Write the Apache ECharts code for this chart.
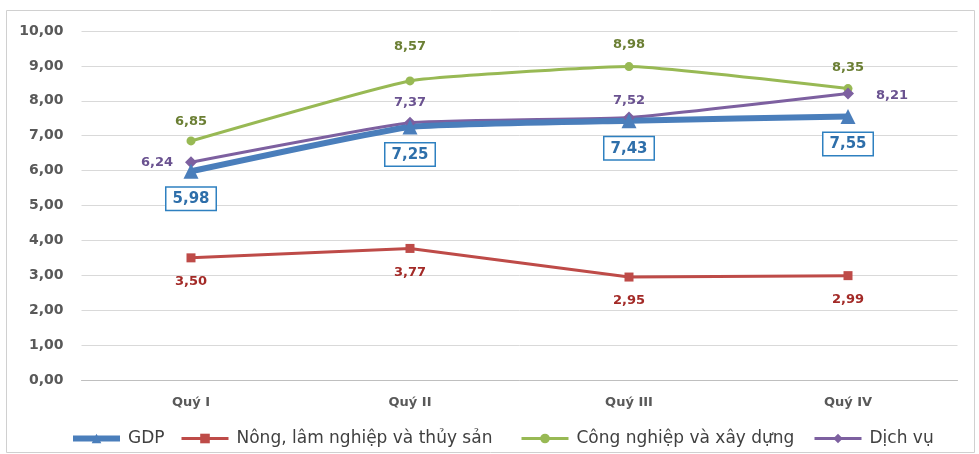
<!DOCTYPE html>
<html>
<head>
<meta charset="utf-8">
<script src="https://cdn.jsdelivr.net/npm/echarts@6/dist/echarts.min.js"></script>
<style>
  html, body { margin: 0; padding: 0; background: #fff; }
  #chart { width: 979px; height: 454px; }
</style>
</head>
<body>
<div id="chart"></div>
<script>
const categories = ['Quý I', 'Quý II', 'Quý III', 'Quý IV'];
const gdp = [5.98, 7.25, 7.43, 7.55];
const nongNghiep = [3.50, 3.77, 2.95, 2.99];
const congNghiep = [6.85, 8.57, 8.98, 8.35];
const dichVu = [6.24, 7.37, 7.52, 8.21];
const yTicks = [0, 1, 2, 3, 4, 5, 6, 7, 8, 9, 10];
const seriesNames = ['GDP', 'Nông, lâm nghiệp và thủy sản', 'Công nghiệp và xây dựng', 'Dịch vụ'];

const fmt = v => Number(v).toFixed(2).replace('.', ',');
const labelFont = { fontFamily: 'DejaVu Sans', fontWeight: 'bold', fontSize: 13 };

// per-point label placement for the green and purple series
const greenOffsets = [[0, -2], [0, -17], [0, -5], [0, -4]];
const purplePos = [
  { position: 'left', offset: [-4, 0] },
  { position: 'top', offset: [0, 0] },
  { position: 'top', offset: [0, 4] },
  { position: 'right', offset: [14, 2] }
];

// one legend block per series so each entry sits at its own x
const legendLeft = [65, 175, 515, 808];
const legendLineWidth = [6, 3, 3, 3];
const legends = seriesNames.map((name, i) => ({
  top: 425,
  left: legendLeft[i],
  itemWidth: 47,
  itemHeight: 12,
  textStyle: { fontFamily: 'DejaVu Sans', fontSize: 17, color: '#404040', padding: [0, 0, 0, 3] },
  data: [{ name, lineStyle: { width: legendLineWidth[i] } }]
}));

const chart = echarts.init(document.getElementById('chart'));
chart.setOption({
  animation: false,
  backgroundColor: '#fff',
  graphic: [{
    type: 'rect',
    shape: { x: 6.5, y: 10.5, width: 968, height: 442 },
    style: { fill: 'none', stroke: '#d0d0d0', lineWidth: 1 },
    silent: true
  }],
  grid: { left: 81.5, right: 21.5, top: 31, bottom: 74, containLabel: false },
  legend: legends,
  xAxis: {
    type: 'category',
    data: categories,
    boundaryGap: true,
    axisLine: { lineStyle: { color: '#bfbfbf' } },
    axisTick: { show: false },
    axisLabel: { margin: 16, fontFamily: 'DejaVu Sans', fontWeight: 'bold', fontSize: 13, color: '#595959' }
  },
  yAxis: {
    type: 'value',
    min: yTicks[0],
    max: yTicks[yTicks.length - 1],
    interval: 1,
    axisLine: { show: false },
    axisTick: { show: false },
    splitLine: { lineStyle: { color: '#d9d9d9' } },
    axisLabel: { margin: 18, formatter: fmt, fontFamily: 'DejaVu Sans', fontWeight: 'bold', fontSize: 14, color: '#595959' }
  },
  series: [
    {
      name: seriesNames[1],
      type: 'line',
      smooth: false,
      data: nongNghiep,
      symbol: 'rect',
      symbolSize: 9,
      lineStyle: { width: 3, color: '#be4b48' },
      itemStyle: { color: '#be4b48' },
      label: { show: true, position: 'bottom', distance: 13, formatter: p => fmt(p.value), color: '#a32a27', ...labelFont }
    },
    {
      name: seriesNames[2],
      type: 'line',
      smooth: 0.12,
      data: congNghiep.map((v, i) => ({
        value: v,
        label: { offset: greenOffsets[i] }
      })),
      symbol: 'circle',
      symbolSize: 9,
      lineStyle: { width: 3, color: '#98b954' },
      itemStyle: { color: '#98b954' },
      label: { show: true, position: 'top', distance: 6, formatter: p => fmt(p.value), color: '#6b7f34', ...labelFont }
    },
    {
      name: seriesNames[3],
      type: 'line',
      smooth: 0.12,
      data: dichVu.map((v, i) => ({
        value: v,
        label: purplePos[i]
      })),
      symbol: 'diamond',
      symbolSize: 12,
      lineStyle: { width: 3, color: '#7d60a0' },
      itemStyle: { color: '#7d60a0' },
      label: { show: true, distance: 8, formatter: p => fmt(p.value), color: '#6a5290', ...labelFont }
    },
    {
      name: seriesNames[0],
      type: 'line',
      smooth: 0.12,
      z: 3,
      data: gdp,
      symbol: 'triangle',
      symbolSize: 15,
      lineStyle: { width: 6, color: '#4a7ebb' },
      itemStyle: { color: '#4a7ebb' },
      label: {
        show: true,
        position: 'bottom',
        distance: 9,
        formatter: p => fmt(p.value),
        color: '#2e6faa',
        backgroundColor: '#fff',
        borderColor: '#2e80c0',
        borderWidth: 1.5,
        padding: [4, 6, 3, 6],
        fontFamily: 'DejaVu Sans',
        fontWeight: 'bold',
        fontSize: 15
      }
    }
  ]
});
</script>
</body>
</html>
